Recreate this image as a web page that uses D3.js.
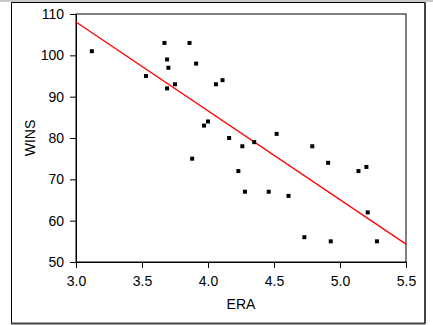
<!DOCTYPE html>
<html>
<head>
<meta charset="utf-8">
<script src="https://cdn.jsdelivr.net/npm/d3@7"></script>
<style>
  body { margin: 0; background: #fff; }
  text { font-family: "Liberation Sans", Arial, sans-serif; }
</style>
</head>
<body>
<div id="chart"></div>
<script>
// ERA vs WINS, one point per team
var era  = [3.12, 3.53, 3.67, 3.69, 3.70, 3.69, 3.75, 3.86, 3.91, 3.88,
            3.97, 4.00, 4.06, 4.11, 4.16, 4.26, 4.23, 4.28, 4.35, 4.46,
            4.52, 4.61, 4.73, 4.79, 4.91, 4.93, 5.14, 5.20, 5.21, 5.28];
var wins = [101, 95, 103, 99, 97, 92, 93, 103, 98, 75,
            83, 84, 93, 94, 80, 78, 72, 67, 79, 67,
            81, 66, 56, 78, 74, 55, 72, 73, 62, 55];
var xTicks = [3.0, 3.5, 4.0, 4.5, 5.0, 5.5];
var yTicks = [50, 60, 70, 80, 90, 100, 110];

var ancho = 433, alto = 325;
var izq = 76, der = 406, arriba = 14, abajo = 262;

var svg = d3.select("#chart").append("svg")
    .attr("width", ancho)
    .attr("height", alto);

// marco exterior
svg.append("rect").attr("x", 0).attr("y", 0).attr("width", ancho).attr("height", 2)
    .attr("fill", "#c8c8c8");
svg.append("path")
    .attr("d", "M11.5,323.5 V2.5 H424")
    .attr("fill", "none").attr("stroke", "#000").attr("stroke-width", 1);
svg.append("path")
    .attr("d", "M425,2 V324 M11,323.5 H425")
    .attr("fill", "none").attr("stroke", "#444").attr("stroke-width", 2);

var x = d3.scaleLinear().domain([3.0, 5.5]).range([izq, der]);
var y = d3.scaleLinear().domain([50, 110]).range([abajo, arriba]);

// caja del grafico
svg.append("rect")
    .attr("x", izq).attr("y", arriba)
    .attr("width", der - izq).attr("height", abajo - arriba)
    .attr("fill", "none").attr("stroke", "#000");

var ejeX = svg.append("g")
    .attr("transform", "translate(0," + abajo + ")")
    .call(d3.axisBottom(x).tickValues(xTicks).tickFormat(d3.format(".1f"))
        .tickSize(6).tickSizeOuter(0).tickPadding(8));
var ejeY = svg.append("g")
    .attr("transform", "translate(" + izq + ",0)")
    .call(d3.axisLeft(y).tickValues(yTicks).tickSize(6).tickSizeOuter(0).tickPadding(6));

[ejeX, ejeY].forEach(function (g) {
    g.selectAll("text").attr("font-size", "14px").attr("fill", "#000")
        .attr("font-family", "Liberation Sans, Arial, sans-serif");
    g.selectAll("line").attr("stroke", "#000");
    g.select(".domain").attr("stroke", "#000");
});

svg.append("text")
    .text("ERA")
    .attr("x", (izq + der) / 2).attr("y", 309)
    .attr("text-anchor", "middle")
    .attr("font-size", "14px");
svg.append("text")
    .text("WINS")
    .attr("transform", "translate(35," + ((arriba + abajo) / 2) + ") rotate(-90)")
    .attr("text-anchor", "middle")
    .attr("font-size", "14px");

// recta de minimos cuadrados
var mx = d3.mean(era), my = d3.mean(wins);
var sxy = d3.sum(era, function (d, i) { return (d - mx) * (wins[i] - my); });
var sxx = d3.sum(era, function (d) { return (d - mx) * (d - mx); });
var pendiente = sxy / sxx;
var corte = my - pendiente * mx;
var dominio = x.domain();

svg.append("line")
    .attr("x1", x(dominio[0])).attr("y1", y(corte + pendiente * dominio[0]))
    .attr("x2", x(dominio[1])).attr("y2", y(corte + pendiente * dominio[1]))
    .attr("stroke", "#ff0000").attr("stroke-width", 1.3);

svg.selectAll("rect.punto")
    .data(era)
    .enter()
    .append("rect")
    .attr("class", "punto")
    .attr("x", function (d) { return x(d) - 2; })
    .attr("y", function (d, i) { return y(wins[i]) - 2; })
    .attr("width", 4)
    .attr("height", 4)
    .attr("fill", "#000");
</script>
</body>
</html>
